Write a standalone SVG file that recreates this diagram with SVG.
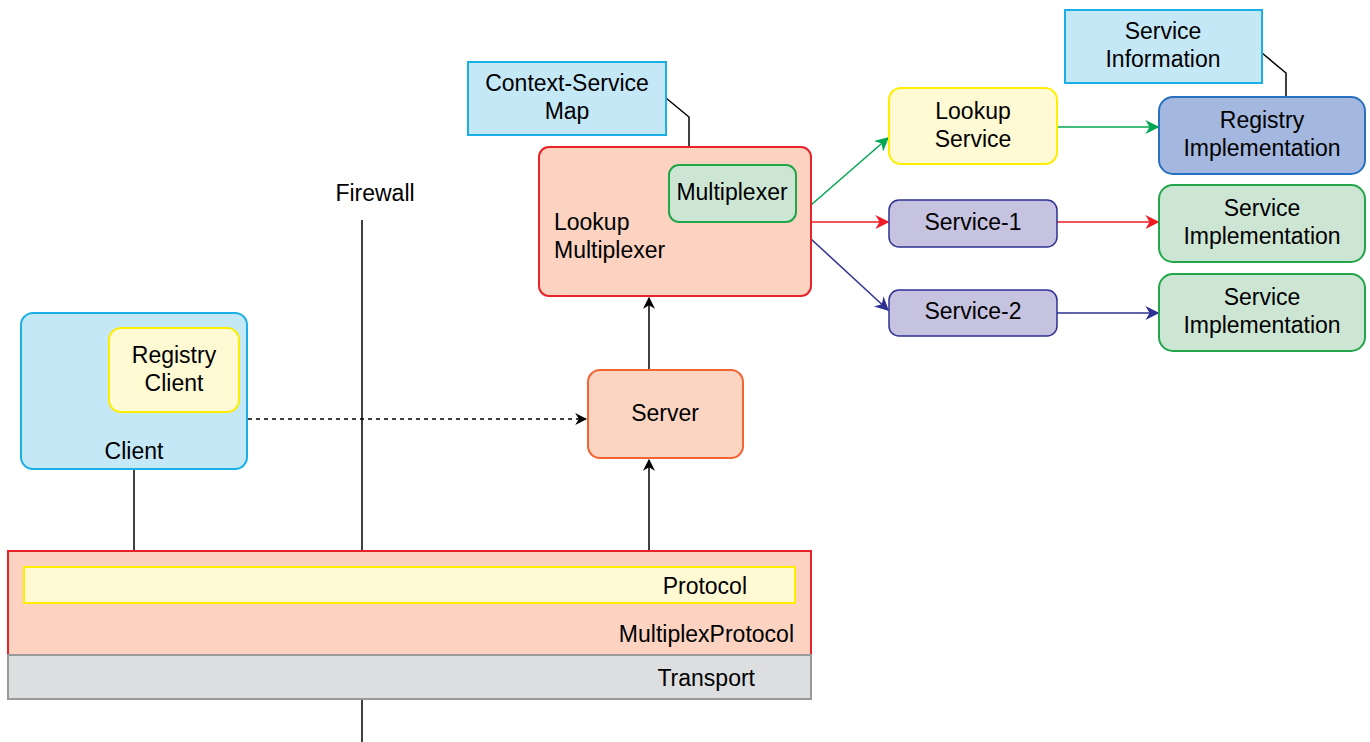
<svg xmlns="http://www.w3.org/2000/svg" width="1370" height="742" viewBox="0 0 1370 742">
<style>
text{font-family:"Liberation Sans",Arial,sans-serif;font-size:23px;fill:#000}
.c{text-anchor:middle}
.e{text-anchor:end}
.blue{fill:#c5e8f7;stroke:#1ab0e6;stroke-width:2}
.yel{fill:#fff9d4;stroke:#ffee00;stroke-width:2}
.sal{fill:#fbd3c0;stroke:#e8242a;stroke-width:2}
.srv{fill:#fbd5c1;stroke:#f26532;stroke-width:2}
.grn{fill:#cde6d4;stroke:#22a64a;stroke-width:2}
.pur{fill:#c6c3e1;stroke:#2e3192;stroke-width:1.5}
.reg{fill:#a3b7df;stroke:#2a70c0;stroke-width:2}
.gry{fill:#dcdee0;stroke:#999;stroke-width:2}
.ln{fill:none;stroke-width:1.5}
</style>
<defs>
<marker id="aK" viewBox="0 0 10 10" refX="9" refY="5" markerWidth="12" markerHeight="12" markerUnits="userSpaceOnUse" orient="auto"><path d="M0,0 L10,5 L0,10 L3,5 Z" fill="#000"/></marker>
<marker id="aG" viewBox="0 0 10 10" refX="9" refY="5" markerWidth="14" markerHeight="14" markerUnits="userSpaceOnUse" orient="auto"><path d="M0,0 L10,5 L0,10 L3,5 Z" fill="#00a651"/></marker>
<marker id="aR" viewBox="0 0 10 10" refX="9" refY="5" markerWidth="14" markerHeight="14" markerUnits="userSpaceOnUse" orient="auto"><path d="M0,0 L10,5 L0,10 L3,5 Z" fill="#ed1c24"/></marker>
<marker id="aB" viewBox="0 0 10 10" refX="9" refY="5" markerWidth="14" markerHeight="14" markerUnits="userSpaceOnUse" orient="auto"><path d="M0,0 L10,5 L0,10 L3,5 Z" fill="#2e3192"/></marker>
</defs>

<g id="firewall-label"><text class="c" x="375" y="201">Firewall</text></g>

<g id="connectors">
<path class="ln" stroke="#000" d="M362,220 V551"/>
<path class="ln" stroke="#000" d="M362,699 V742"/>
<path class="ln" stroke="#000" d="M134,469 V551"/>
<path class="ln" stroke="#000" d="M649,551 V460" marker-end="url(#aK)"/>
<path class="ln" stroke="#000" d="M649,370 V298" marker-end="url(#aK)"/>
<path class="ln" stroke="#000" stroke-dasharray="4,4" d="M248,419 H586" marker-end="url(#aK)"/>
<path class="ln" stroke="#000" d="M666,98 L689,117 V147"/>
<path class="ln" stroke="#000" d="M1262,53 L1286,73 V97"/>
<path class="ln" stroke="#00a651" d="M811,205 L888,138" marker-end="url(#aG)"/>
<path class="ln" stroke="#ed1c24" d="M811,222 H888" marker-end="url(#aR)"/>
<path class="ln" stroke="#2e3192" d="M811,239 L888,310" marker-end="url(#aB)"/>
<path class="ln" stroke="#00a651" d="M1057,127 H1158" marker-end="url(#aG)"/>
<path class="ln" stroke="#ed1c24" d="M1057,222 H1158" marker-end="url(#aR)"/>
<path class="ln" stroke="#2e3192" d="M1057,313 H1158" marker-end="url(#aB)"/>
</g>

<g id="context-service-map"><rect class="blue" x="468" y="62" width="198" height="73"/><text class="c" x="567" y="91">Context-Service</text><text class="c" x="567" y="119">Map</text></g>

<g id="lookup-multiplexer"><rect class="sal" x="539" y="147" width="272" height="149" rx="10"/><text x="554" y="230">Lookup</text><text x="554" y="258">Multiplexer</text></g>
<g id="multiplexer"><rect class="grn" x="669" y="165" width="127" height="57" rx="10"/><text class="c" x="732" y="200">Multiplexer</text></g>

<g id="client"><rect class="blue" x="21" y="313" width="226" height="156" rx="12"/><text class="c" x="134" y="459">Client</text></g>
<g id="registry-client"><rect class="yel" x="109" y="328" width="130" height="84" rx="12"/><text class="c" x="174" y="363">Registry</text><text class="c" x="174" y="391">Client</text></g>

<g id="server"><rect class="srv" x="588" y="370" width="155" height="88" rx="12"/><text class="c" x="665" y="421">Server</text></g>

<g id="multiplex-protocol"><rect class="sal" x="8" y="551" width="803" height="104"/><text class="e" x="794" y="642">MultiplexProtocol</text></g>
<g id="protocol"><rect class="yel" x="24" y="567" width="771" height="36"/><text class="e" x="747" y="594">Protocol</text></g>
<g id="transport"><rect class="gry" x="8" y="655" width="803" height="44"/><text class="e" x="755" y="686">Transport</text></g>

<g id="lookup-service"><rect class="yel" x="889" y="88" width="168" height="76" rx="12"/><text class="c" x="973" y="119">Lookup</text><text class="c" x="973" y="147">Service</text></g>
<g id="service-1"><rect class="pur" x="889" y="200" width="168" height="47" rx="10"/><text class="c" x="973" y="230">Service-1</text></g>
<g id="service-2"><rect class="pur" x="889" y="290" width="168" height="46" rx="10"/><text class="c" x="973" y="319">Service-2</text></g>

<g id="service-information"><rect class="blue" x="1065" y="10" width="197" height="73"/><text class="c" x="1163" y="39">Service</text><text class="c" x="1163" y="67">Information</text></g>
<g id="registry-implementation"><rect class="reg" x="1159" y="97" width="206" height="77" rx="14"/><text class="c" x="1262" y="128">Registry</text><text class="c" x="1262" y="156">Implementation</text></g>
<g id="service-implementation-1"><rect class="grn" x="1159" y="185" width="206" height="77" rx="14"/><text class="c" x="1262" y="216">Service</text><text class="c" x="1262" y="244">Implementation</text></g>
<g id="service-implementation-2"><rect class="grn" x="1159" y="274" width="206" height="77" rx="14"/><text class="c" x="1262" y="305">Service</text><text class="c" x="1262" y="333">Implementation</text></g>
</svg>
